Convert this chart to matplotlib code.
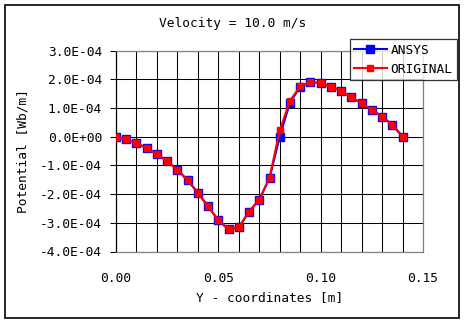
import matplotlib
matplotlib.use('Agg')
import matplotlib.pyplot as plt
from matplotlib.ticker import FuncFormatter
from matplotlib.patches import Rectangle

# y coordinates [m]
y_coord = [0.000, 0.005, 0.010, 0.015, 0.020, 0.025, 0.030, 0.035, 0.040, 0.045,
           0.050, 0.055, 0.060, 0.065, 0.070, 0.075, 0.080, 0.085, 0.090, 0.095,
           0.100, 0.105, 0.110, 0.115, 0.120, 0.125, 0.130, 0.135, 0.140]

# potential [Wb/m] x 1e-4
ansys = [0.00, -0.09, -0.22, -0.40, -0.61, -0.85, -1.15, -1.52, -1.95, -2.43,
         -2.91, -3.23, -3.16, -2.61, -2.19, -1.44, 0.00, 1.19, 1.74, 1.91,
         1.87, 1.75, 1.60, 1.38, 1.16, 0.94, 0.70, 0.42, 0.00]
original = [0.00, -0.09, -0.22, -0.40, -0.61, -0.85, -1.15, -1.52, -1.95, -2.43,
            -2.91, -3.23, -3.16, -2.61, -2.19, -1.44, 0.23, 1.25, 1.76, 1.91,
            1.87, 1.75, 1.60, 1.38, 1.16, 0.94, 0.70, 0.42, 0.00]

x_major = [0.00, 0.05, 0.10, 0.15]
x_grid = [0.01 * i for i in range(16)]
y_ticks = [-4e-4, -3e-4, -2e-4, -1e-4, 0.0, 1e-4, 2e-4, 3e-4]

plt.rcParams['font.family'] = ['DejaVu Sans Mono']
FS = 9.3

W, H = 466, 324
fig = plt.figure(figsize=(W / 100, H / 100), dpi=100)
fig.patch.set_facecolor('white')

# outer chart border
fig.patches.append(Rectangle((5 / W, 1 - 318 / H), 454 / W, 313 / H,
                             transform=fig.transFigure, fill=False,
                             edgecolor='black', linewidth=1.2))

ax = fig.add_axes([116 / W, 1 - 251.5 / H, 307 / W, 200.8 / H])

ax.plot(y_coord, [v * 1e-4 for v in ansys], color='blue', lw=1.5,
        marker='s', markersize=6.2, markerfacecolor='blue',
        markeredgecolor='blue', label='ANSYS', zorder=3)
ax.plot(y_coord, [v * 1e-4 for v in original], color='red', lw=1.5,
        marker='s', markersize=4.4, markerfacecolor='red',
        markeredgecolor='red', label='ORIGINAL', zorder=4)

ax.set_xlim(0, 0.15)
ax.set_ylim(-4e-4, 3e-4)
ax.set_xticks(x_major)
ax.set_xticks(x_grid, minor=True)
ax.set_yticks(y_ticks)
ax.set_xticklabels(['%.2f' % v for v in x_major], fontsize=FS)
ax.yaxis.set_major_formatter(FuncFormatter(lambda v, p: '%.1E' % v))
for lab in ax.get_yticklabels():
    lab.set_fontsize(FS)

ax.grid(True, which='both', color='black', linewidth=0.75)
ax.tick_params(axis='x', which='both', length=0, pad=15)
ax.tick_params(axis='y', length=4, width=0.75, color='black', pad=6)

for s in ['top', 'right', 'bottom']:
    ax.spines[s].set_color('#808080')
    ax.spines[s].set_linewidth(0.9)
ax.spines['left'].set_color('black')
ax.spines['left'].set_linewidth(0.9)

ax.set_xlabel('Y - coordinates [m]', fontsize=FS, labelpad=4)
ax.set_ylabel('Potential [Wb/m]', fontsize=FS, labelpad=8)
fig.text(0.5, 1 - 23 / H, 'Velocity = 10.0 m/s', ha='center', va='center',
         fontsize=FS)

leg = fig.legend(loc='upper right', bbox_to_anchor=(457 / W, 1 - 39 / H),
                 fontsize=FS, frameon=True, fancybox=False, borderaxespad=0,
                 handlelength=2.5, handletextpad=0.3, borderpad=0.35,
                 labelspacing=0.5)
leg.get_frame().set_edgecolor('black')
leg.get_frame().set_linewidth(0.9)
leg.set_zorder(10)

fig.savefig('out.png', dpi=100)
